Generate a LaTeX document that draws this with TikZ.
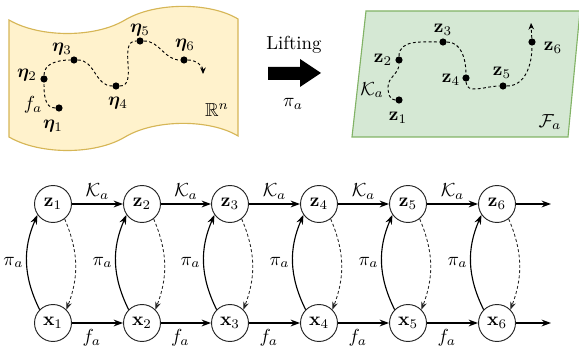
\documentclass[tikz,border=0pt]{standalone}
\usepackage{amsmath,amssymb,bm}
\usetikzlibrary{arrows.meta}
\definecolor{ylwfill}{HTML}{FFF2CC}
\definecolor{ylwdraw}{HTML}{D6B656}
\definecolor{grnfill}{HTML}{D5E8D4}
\definecolor{grndraw}{HTML}{82B366}
\begin{document}
\begin{tikzpicture}[x=0.53pt,y=-0.53pt,
  state/.style={circle, draw=black!85, line width=0.5pt, minimum size=19.6pt, inner sep=0pt},
  fwd/.style={-{Stealth[length=5pt,width=3.6pt]}, line width=0.6pt},
  dfwd/.style={-{Stealth[length=4pt,width=3pt]}, line width=0.45pt, dash pattern=on 1.6pt off 1.2pt, black!85},
  pathdash/.style={line width=0.5pt, dash pattern=on 1.5pt off 1.3pt},
  dotn/.style={circle, fill=black, inner sep=0pt, minimum size=3.8pt},
  lbl/.style={inner sep=1pt}
]
\useasboundingbox (0,0) rectangle (579,351);

% yellow sheet R^n
\draw[ylwdraw, fill=ylwfill, line width=0.6pt]
  (9,20) .. controls (40,38) and (95,38) .. (125,20)
  .. controls (155,2) and (210,2) .. (238,19) -- (238,136)
  .. controls (210,119) and (155,119) .. (125,137)
  .. controls (95,155) and (40,155) .. (9,137) -- cycle;

% green plane F_a
\draw[grndraw, fill=grnfill, line width=0.6pt]
  (366,11) -- (580,11) -- (568,137) -- (352,137) -- cycle;

% lifting arrow
\fill (268,67) -- (300,67) -- (300,59) -- (321,73) -- (300,87) -- (300,80) -- (268,80) -- cycle;
\node (lift) at (294,45) {Lifting};
\node (pilift) at (293,104) {$\pi_a$};

% eta points
\node[dotn] (e1) at (59,108) {};
\node[dotn] (e2) at (44,79) {};
\node[dotn] (e3) at (74,60) {};
\node[dotn] (e4) at (116,86) {};
\node[dotn] (e5) at (140,41) {};
\node[dotn] (e6) at (184,60) {};
\coordinate (eend) at (203,74);
\node[lbl] (le1) at (53,126) {$\bm{\eta}_1$};
\node[lbl] (le2) at (27,75) {$\bm{\eta}_2$};
\node[lbl] (le3) at (62,49) {$\bm{\eta}_3$};
\node[lbl] (le4) at (118,103) {$\bm{\eta}_4$};
\node[lbl] (le5) at (140,30) {$\bm{\eta}_5$};
\node[lbl] (le6) at (185,45) {$\bm{\eta}_6$};
\node[lbl] (fa) at (33,105) {$f_a$};
\node[lbl] (rn) at (217,110) {$\mathbb{R}^n$};
\draw[pathdash] (e1) to[out=180,in=-90] (e2) to[out=90,in=180] (e3)
  to[out=0,in=180] (e4) to[out=0,in=180] (e5) to[out=0,in=180] (e6);
\draw[pathdash, -{Stealth[length=3.5pt,width=3pt]}] (e6) to[out=0,in=90] (eend);

% z points
\node[dotn] (g1) at (399,100) {};
\node[dotn] (g2) at (399,60) {};
\node[dotn] (g3) at (443,42) {};
\node[dotn] (g4) at (466,78) {};
\node[dotn] (g5) at (503,86) {};
\node[dotn] (g6) at (532,42) {};
\coordinate (gk) at (388,87);
\coordinate (gend) at (531,23);
\node[lbl] (lg1) at (398,118) {$\mathbf{z}_1$};
\node[lbl] (lg2) at (383,60) {$\mathbf{z}_2$};
\node[lbl] (lg3) at (443,30) {$\mathbf{z}_3$};
\node[lbl] (lg4) at (451,80) {$\mathbf{z}_4$};
\node[lbl] (lg5) at (502,73) {$\mathbf{z}_5$};
\node[lbl] (lg6) at (553,48) {$\mathbf{z}_6$};
\node[lbl] (ka) at (372,90) {$\mathcal{K}_a$};
\node[lbl] (fF) at (550,122) {$\mathcal{F}_a$};
\draw[pathdash] (g1) to[out=180,in=-90] (gk) to[out=90,in=-90] (g2) to[out=90,in=180] (g3)
  to[out=0,in=90] (g4) to[out=-90,in=180] (g5) to[out=0,in=-90] (g6);
\draw[pathdash, -{Stealth[length=3.5pt,width=3pt]}] (g6) -- (gend);

% bottom chain
\foreach \i/\xx in {1/53,2/142,3/230,4/319,5/408,6/497}{
  \node[state] (z\i) at (\xx,204) {$\mathbf{z}_{\i}$};
  \node[state] (x\i) at (\xx,323) {$\mathbf{x}_{\i}$};
}
\coordinate (zend) at (551,204);
\coordinate (xend) at (551,323);
\foreach \i/\j in {1/2,2/3,3/4,4/5,5/6}{
  \draw[fwd] (z\i) -- node[above, yshift=-1pt]{$\mathcal{K}_a$} (z\j);
  \draw[fwd] (x\i) -- node[below, xshift=-3pt]{$f_a$} (x\j);
}
\draw[fwd] (z6) -- (zend);
\draw[fwd] (x6) -- (xend);
\foreach \i in {1,...,6}{
  \draw[fwd] (x\i.135) to[bend left=25] node[left, inner sep=1.5pt]{$\pi_a$} (z\i.215);
  \draw[dfwd] (z\i.-52) to[bend left=22] (x\i.45);
}
\end{tikzpicture}
\end{document}
